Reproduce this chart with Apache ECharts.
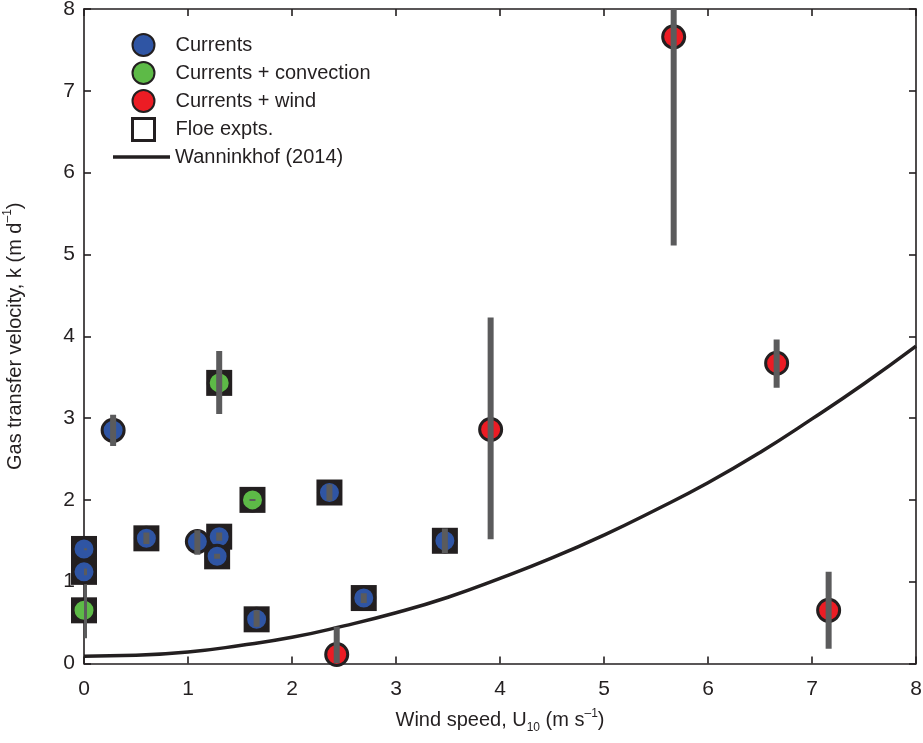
<!DOCTYPE html>
<html>
<head>
<meta charset="utf-8">
<script src="https://cdn.jsdelivr.net/npm/echarts@6/dist/echarts.min.js"></script>
<style>
html,body{margin:0;padding:0;background:#fff;}
#chart{width:923px;height:743px;}
</style>
</head>
<body>
<div id="chart"></div>
<script>
// ---- Data ----
// Currents (blue)
const currentsX    = [0.00, 0.00, 0.28, 0.60, 1.09, 1.30, 1.28, 2.36, 1.66, 2.69, 3.47];
const currentsY    = [1.40, 1.12, 2.85, 1.53, 1.49, 1.55, 1.31, 2.09, 0.54, 0.80, 1.50];
const currentsLow  = [1.39, 1.08, 2.66, 1.46, 1.33, 1.50, 1.28, 1.99, 0.45, 0.74, 1.35];
const currentsHigh = [1.41, 1.16, 3.04, 1.60, 1.63, 1.60, 1.34, 2.19, 0.65, 0.86, 1.65];
const currentsFloe = [1, 1, 0, 1, 0, 1, 1, 1, 1, 1, 1];
// Currents + convection (green)
const convX    = [0.00, 1.30, 1.62];
const convY    = [0.65, 3.43, 2.00];
const convLow  = [0.31, 3.05, 1.99];
const convHigh = [0.97, 3.82, 2.01];
const convFloe = [1, 1, 1];
// Currents + wind (red)
const windX    = [2.43, 3.91, 5.67, 6.66, 7.16];
const windY    = [0.11, 2.86, 7.66, 3.67, 0.65];
const windLow  = [0.00, 1.52, 5.11, 3.37, 0.18];
const windHigh = [0.45, 4.23, 8.30, 3.96, 1.12];
const windFloe = [0, 0, 0, 0, 0];
// Wanninkhof (2014) curve
const wannX = [0, 0.5, 1, 1.5, 2, 2.5, 3, 3.5, 4, 4.5, 5, 5.5, 6, 6.5, 7, 7.5, 8];
const wannY = [0.09, 0.10, 0.14, 0.22, 0.32, 0.46, 0.62, 0.81, 1.04, 1.29, 1.57, 1.88, 2.21, 2.58, 2.99, 3.42, 3.88];
// Axis ticks
const xTicks = [0, 1, 2, 3, 4, 5, 6, 7, 8];
const yTicks = [0, 1, 2, 3, 4, 5, 6, 7, 8];

const INK = '#231f20';
const FONT = 'Liberation Sans, Arial, Helvetica, sans-serif';

function pts(xs, ys) { return xs.map((x, i) => [x, ys[i]]); }
function floePts(xs, ys, fl) { return xs.map((x, i) => [x, ys[i]]).filter((p, i) => fl[i]); }
function errPts(xs, lo, hi) { return xs.map((x, i) => [x, lo[i], hi[i]]); }

const floeData = [].concat(
  floePts(currentsX, currentsY, currentsFloe),
  floePts(convX, convY, convFloe),
  floePts(windX, windY, windFloe)
);
const errData = [].concat(
  errPts(currentsX, currentsLow, currentsHigh),
  errPts(convX, convLow, convHigh),
  errPts(windX, windLow, windHigh)
);

const chart = echarts.init(document.getElementById('chart'), null, {renderer: 'canvas'});

const axisCommon = {
  min: 0, max: 8, interval: 1,
  axisLine: {show: true, onZero: false, lineStyle: {color: INK, width: 1.6}},
  axisTick: {show: true, inside: true, length: 7, lineStyle: {color: INK, width: 1.6}},
  splitLine: {show: false}
};

const option = {
  animation: false,
  backgroundColor: '#fff',
  textStyle: {fontFamily: FONT},
  grid: {left: 84, right: 7, top: 9, bottom: 79.5, containLabel: false, outerBoundsMode: 'none'},
  legend: [
    {
      orient: 'vertical', left: 126, top: 28, padding: 5,
      itemWidth: 22, itemHeight: 22, itemGap: 4,
      textStyle: {fontFamily: FONT, fontSize: 20, color: INK, lineHeight: 22, padding: [0, 0, 0, 16]},
      selectedMode: false,
      data: [
        'Currents', 'Currents + convection', 'Currents + wind',
        {name: 'Floe expts.', icon: 'rect', itemStyle: {color: '#fff', borderColor: INK, borderWidth: 3}}
      ]
    },
    {
      orient: 'vertical', left: 108, top: 141, padding: 5,
      itemWidth: 57, itemHeight: 3.5,
      textStyle: {fontFamily: FONT, fontSize: 20, color: INK, lineHeight: 22},
      selectedMode: false,
      data: [{name: 'Wanninkhof (2014)', icon: 'rect', itemStyle: {color: INK, borderWidth: 0}}]
    }
  ],
  xAxis: [
    Object.assign({}, axisCommon, {
      type: 'value', position: 'bottom',
      axisLabel: {show: true, fontSize: 21, color: INK, margin: 15, fontFamily: FONT,
        customValues: xTicks},
      name: 'Wind speed, U{sub|10} (m s{sup|\u20131})',
      nameLocation: 'middle', nameGap: 44,
      nameTextStyle: {fontSize: 20, color: INK, fontFamily: FONT, lineHeight: 26,
        rich: {
          sub: {fontSize: 12, color: INK, fontFamily: FONT, verticalAlign: 'bottom', lineHeight: 12},
          sup: {fontSize: 12, color: INK, fontFamily: FONT, verticalAlign: 'top', lineHeight: 12}
        }}
    }),
    Object.assign({}, axisCommon, {
      type: 'value', position: 'top', axisLabel: {show: false}
    })
  ],
  yAxis: [
    Object.assign({}, axisCommon, {
      type: 'value', position: 'left',
      axisLabel: {show: true, fontSize: 21, color: INK, margin: 9, fontFamily: FONT,
        customValues: yTicks},
      name: 'Gas transfer velocity, k (m d{sup|\u20131})',
      nameLocation: 'middle', nameGap: 56,
      nameTextStyle: {fontSize: 20, color: INK, fontFamily: FONT, lineHeight: 26,
        rich: {
          sup: {fontSize: 12, color: INK, fontFamily: FONT, verticalAlign: 'top', lineHeight: 12}
        }}
    }),
    Object.assign({}, axisCommon, {
      type: 'value', position: 'right', axisLabel: {show: false}
    })
  ],
  series: [
    {
      name: 'Wanninkhof (2014)', type: 'line', xAxisIndex: 0, yAxisIndex: 0,
      data: pts(wannX, wannY), smooth: true, symbol: 'none',
      lineStyle: {color: INK, width: 3.5}, itemStyle: {color: INK}, z: 2
    },
    {
      name: 'Floe expts.', type: 'scatter', xAxisIndex: 0, yAxisIndex: 0,
      data: floeData, symbol: 'rect', symbolSize: 26,
      itemStyle: {color: INK, opacity: 1}, z: 3
    },
    {
      name: 'Currents', type: 'scatter', data: pts(currentsX, currentsY),
      symbol: 'circle', symbolSize: 22,
      itemStyle: {color: '#2f55a4', borderColor: INK, borderWidth: 3, opacity: 1}, z: 4
    },
    {
      name: 'Currents + convection', type: 'scatter', data: pts(convX, convY),
      symbol: 'circle', symbolSize: 22,
      itemStyle: {color: '#5dba47', borderColor: INK, borderWidth: 3, opacity: 1}, z: 4
    },
    {
      name: 'Currents + wind', type: 'scatter', data: pts(windX, windY),
      symbol: 'circle', symbolSize: 22,
      itemStyle: {color: '#ec1c24', borderColor: INK, borderWidth: 3, opacity: 1}, z: 4
    },
    {
      name: 'error', type: 'custom', data: errData, clip: true, z: 5,
      encode: {x: 0, y: [1, 2]},
      renderItem: function (params, api) {
        const x = api.value(0), lo = api.value(1), hi = api.value(2);
        const p1 = api.coord([x, hi]);
        const p2 = api.coord([x, lo]);
        return {
          type: 'rect',
          shape: {x: p1[0] - 3, y: p1[1], width: 6, height: Math.max(p2[1] - p1[1], 2)},
          style: {fill: '#5b5b5c'}
        };
      }
    }
  ]
};
chart.setOption(option);
</script>
</body>
</html>
